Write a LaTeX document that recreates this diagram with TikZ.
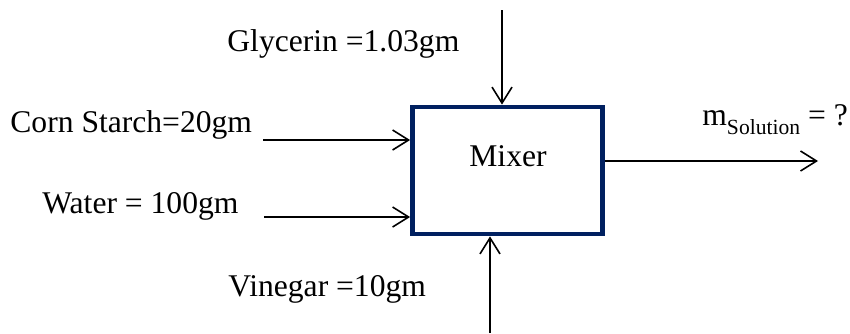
\documentclass[tikz,border=0pt]{standalone}
\usepackage{fontspec}
\setmainfont{Liberation Serif}
\usetikzlibrary{arrows.meta, positioning}
\definecolor{boxblue}{RGB}{0,32,96}
\newcommand{\lowsub}[1]{\raisebox{-4.5pt}{\fontsize{10.8}{12}\selectfont #1}}

\begin{document}
\begin{tikzpicture}[
  x=0.5pt, y=-0.5pt,
  font=\fontsize{15.8}{19}\selectfont,
  txt/.style={inner sep=0pt, anchor=base west},
  mixbox/.style={draw=boxblue, line width=2.4pt, minimum width=95pt, minimum height=63.5pt, inner sep=0pt},
  arr/.style={-{Straight Barb[length=8pt, width=10pt]}, line width=0.8pt}
]
  \useasboundingbox (0,0) rectangle (850,333);
  \node[mixbox] (mixer) at (507.5,170.5) {};
  \node[inner sep=0pt, anchor=base] (mixtxt) at (508,166) {Mixer};

  \node[txt] (glytxt) at (227,51.7) {Glycerin =1.03gm};
  \node[txt] (corntxt) at (10,132) {Corn Starch=20gm};
  \node[txt] (wattxt) at (42,213) {Water = 100gm};
  \node[txt] (vintxt) at (228,296) {Vinegar =10gm};
  \node[txt] (soltxt) at (702,125) {m\lowsub{Solution} = ?};

  \coordinate (glyin) at (502,10);
  \coordinate (vinin) at (490,333);
  \coordinate (cornin) at (263,140);
  \coordinate (watin) at (264,217);
  \coordinate (solout) at (818,161);

  \draw[arr] (glyin) -- (glyin |- mixer.north);
  \draw[arr] (vinin) -- (vinin |- mixer.south);
  \draw[arr] (cornin) -- (cornin -| mixer.west);
  \draw[arr] (watin) -- (watin -| mixer.west);
  \draw[arr] (solout -| mixer.east) -- (solout);
\end{tikzpicture}
\end{document}
